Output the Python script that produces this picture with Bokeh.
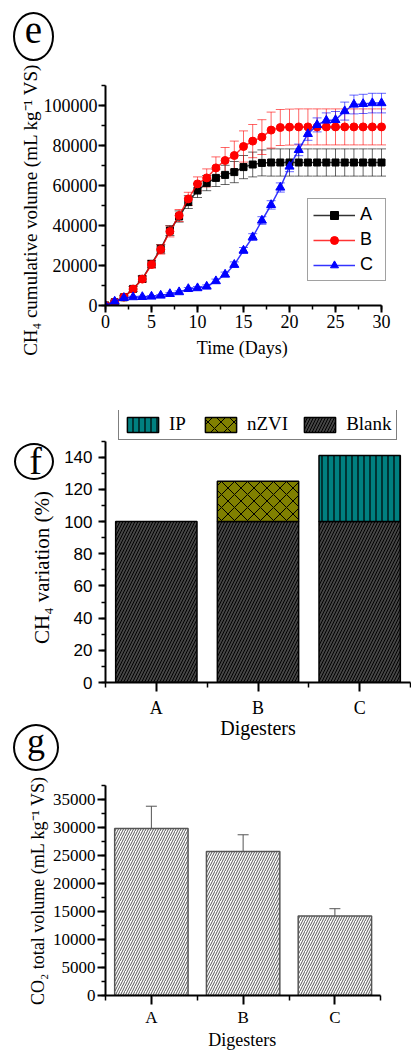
from bokeh.plotting import figure
from bokeh.layouts import column
from bokeh.models import (ColumnDataSource, Whisker, TeeHead, Legend, LegendItem,
                          SingleIntervalTicker, FixedTicker, Range1d,
                          NumeralTickFormatter, Div)
from bokeh.embed import file_html
from bokeh.resources import INLINE

SERIF = "Liberation Serif"
SANS = "Liberation Sans"

# ---------------- data: panel e (CH4 cumulative volume) ----------------
days = list(range(31))
ch4_A = [0, 1600, 4100, 8300, 13300, 20800, 28300, 37500, 44500, 51700, 57500,
         61200, 63800, 65300, 66700, 69200, 70500, 71300, 71500, 71500, 71500,
         71500, 71500, 71500, 71500, 71500, 71500, 71500, 71500, 71500, 71500]
ch4_A_err = [0, 600, 900, 1200, 1500, 1800, 2200, 2500, 2800, 3200, 3500,
             3800, 4300, 4800, 5300, 5800, 6200, 6500, 6800, 6800, 6800,
             6800, 6800, 6800, 6800, 6800, 6800, 6800, 6800, 6800, 6800]
ch4_B = [0, 1700, 4200, 8200, 13200, 20500, 28000, 37000, 45000, 53300, 60800,
         63800, 68800, 72500, 75000, 79500, 82200, 84200, 87700, 89000, 89200,
         89300, 89300, 89300, 89300, 89300, 89300, 89300, 89300, 89300, 89300]
ch4_B_err = [0, 600, 900, 1200, 1500, 1900, 2300, 2700, 3000, 3300, 3500,
             4500, 5500, 6500, 7200, 7800, 8300, 8700, 9000, 9000, 9000,
             9000, 9000, 9000, 9000, 9000, 9000, 9000, 9000, 9000, 9000]
ch4_C = [0, 2000, 3800, 4200, 4300, 4500, 5000, 5800, 6700, 8300, 8700,
         9500, 12200, 15500, 20400, 27500, 34200, 42500, 50300, 59000, 69500,
         77800, 85800, 90300, 92500, 92800, 97200, 100500, 100800, 101200, 101200]
ch4_C_err = [0, 300, 400, 400, 400, 500, 500, 600, 600, 700, 800,
             800, 1000, 1200, 1400, 1500, 1700, 1900, 2100, 2300, 2600,
             2900, 3200, 3500, 3800, 4200, 4500, 4700, 4800, 4900, 4900]
series_names = ["A", "B", "C"]

# ---------------- data: panel f (CH4 variation) ----------------
digesters = ["A", "B", "C"]
blank_pct = [100, 100, 100]
nzvi_pct = [0, 25, 0]
ip_pct = [0, 0, 41]

# ---------------- data: panel g (CO2 total volume) ----------------
co2_total = [29800, 25700, 14200]
co2_err = [4000, 3000, 1300]

panel_tags = ["e", "f", "g"]

NB = "\u00a0"


def style_axis(ax, tick_font, tick_size, label_size, tick_out=7, minor_out=4):
    ax.axis_line_width = 2
    ax.axis_line_color = "black"
    ax.major_tick_line_width = 2
    ax.minor_tick_line_width = 1.5
    ax.major_tick_line_color = "black"
    ax.minor_tick_line_color = "black"
    ax.major_tick_in = 0
    ax.major_tick_out = tick_out
    ax.minor_tick_in = 0
    ax.minor_tick_out = minor_out
    ax.major_label_text_font = tick_font
    ax.major_label_text_font_size = tick_size
    ax.major_label_text_color = "black"
    ax.axis_label_text_font = SERIF
    ax.axis_label_text_font_style = "normal"
    ax.axis_label_text_font_size = label_size
    ax.axis_label_text_color = "black"


def base_fig(w, h, xr, yr, l, r, t, b):
    p = figure(width=w, height=h, x_range=xr, y_range=yr, output_backend="svg",
               toolbar_location=None, min_border_left=l, min_border_right=r,
               min_border_top=t, min_border_bottom=b)
    p.outline_line_color = None
    p.xgrid.visible = False
    p.ygrid.visible = False
    p.background_fill_color = "white"
    p.border_fill_color = "white"
    return p


# ================= panel e =================
# frame runs to the right edge (invisible); the x axis is bounded to 0-30
pe = base_fig(411, 390, Range1d(0, 33.15), Range1d(0, 110000), 105, 1, 85, 85)
pe.xaxis.ticker = SingleIntervalTicker(interval=5, num_minor_ticks=2)
pe.xaxis.bounds = (0, 30)
pe.yaxis.ticker = SingleIntervalTicker(interval=20000, num_minor_ticks=2)
pe.yaxis.formatter = NumeralTickFormatter(format="0")
pe.xaxis.axis_label = "Time (Days)" + NB * 7
pe.yaxis.axis_label = "CH\u2084 cumulative volume (mL kg\u207b\u00b9 VS)" + NB * 6
for ax in pe.xaxis:
    style_axis(ax, SERIF, "18px", "18px")
for ax in pe.yaxis:
    style_axis(ax, SERIF, "18px", "19px")
pe.xaxis.major_label_standoff = 2
pe.xaxis.axis_label_standoff = 7
pe.yaxis.major_label_standoff = 1
pe.yaxis.axis_label_standoff = 0

colors = ["black", "red", "blue"]
markers = ["square", "circle", "triangle"]
msizes = [7, 8, 9]
vals = [ch4_A, ch4_B, ch4_C]
errs = [ch4_A_err, ch4_B_err, ch4_C_err]
items = []
for name, col, mk, ms, v, e in zip(series_names, colors, markers, msizes, vals, errs):
    src = ColumnDataSource(dict(x=days, y=v,
                                upper=[a + b for a, b in zip(v, e)],
                                lower=[a - b for a, b in zip(v, e)]))
    pe.add_layout(Whisker(source=src, base="x", upper="upper", lower="lower",
                          line_color=col, line_alpha=0.6, line_width=1,
                          upper_head=TeeHead(size=9, line_color=col, line_alpha=0.6, line_width=1),
                          lower_head=TeeHead(size=9, line_color=col, line_alpha=0.6, line_width=1)))
    ln = pe.line("x", "y", source=src, line_color=col, line_width=1.5, line_alpha=0.8)
    sc = pe.scatter("x", "y", source=src, marker=mk, size=ms, fill_color=col, line_color=col)
    items.append(LegendItem(label=name, renderers=[ln, sc]))

leg_e = Legend(items=items, location=(202, 24), orientation="vertical",
               border_line_color="#444444", border_line_width=1.5,
               label_text_font=SANS, label_text_font_size="18px", label_text_color="black",
               glyph_width=42, glyph_height=20, label_height=20,
               padding=5, spacing=4, label_standoff=5, margin=0,
               background_fill_color="white", background_fill_alpha=1)
pe.add_layout(leg_e)

# ================= panel f =================
# the frame reaches above 150 (invisible) so that the legend sits inside it;
# the axis itself is bounded to 0-150
pos = [i + 1 for i in range(len(digesters))]
pf = base_fig(411, 351, Range1d(0.5, 3.5), Range1d(0, 169), 102, 1, 20, 56)
pf.xaxis.ticker = FixedTicker(ticks=pos, minor_ticks=[0.5, 1.5, 2.5, 3.5])
pf.xaxis.major_label_overrides = {p_: n for p_, n in zip(pos, digesters)}
pf.yaxis.ticker = SingleIntervalTicker(interval=20, num_minor_ticks=2)
pf.yaxis.bounds = (0, 150)
pf.xaxis.axis_label = "Digesters"
pf.yaxis.axis_label = "CH\u2084 variation (%)" + NB * 8
for ax in pf.yaxis:
    style_axis(ax, SANS, "17px", "21px")
for ax in pf.xaxis:
    style_axis(ax, SERIF, "18px", "20px", tick_out=9, minor_out=5)
pf.xaxis.major_label_standoff = 6
pf.xaxis.axis_label_standoff = -4
pf.yaxis.major_label_standoff = 6
pf.yaxis.axis_label_standoff = 7

tops_n = [b + n for b, n in zip(blank_pct, nzvi_pct)]
tops_i = [t + i for t, i in zip(tops_n, ip_pct)]
src_blank = ColumnDataSource(dict(x=pos, bottom=[0] * len(pos), top=blank_pct))
src_n = ColumnDataSource(dict(x=[p_ for p_, n in zip(pos, nzvi_pct) if n > 0],
                              bottom=[b for b, n in zip(blank_pct, nzvi_pct) if n > 0],
                              top=[t for t, n in zip(tops_n, nzvi_pct) if n > 0]))
src_i = ColumnDataSource(dict(x=[p_ for p_, i in zip(pos, ip_pct) if i > 0],
                              bottom=[t for t, i in zip(tops_n, ip_pct) if i > 0],
                              top=[t for t, i in zip(tops_i, ip_pct) if i > 0]))
r_blank = pf.vbar(x="x", bottom="bottom", top="top", width=0.8, source=src_blank,
                  fill_color="#454545", line_color="black", line_width=1.5,
                  hatch_pattern="/", hatch_color="black", hatch_scale=6, hatch_weight=1)
r_n = pf.vbar(x="x", bottom="bottom", top="top", width=0.8, source=src_n,
              fill_color="#808000", line_color="black", line_width=1.5,
              hatch_pattern="x", hatch_color="black", hatch_scale=13, hatch_weight=1)
r_i = pf.vbar(x="x", bottom="bottom", top="top", width=0.8, source=src_i,
              fill_color="#008080", line_color="black", line_width=1.5,
              hatch_pattern="|", hatch_color="black", hatch_scale=6, hatch_weight=1.2)
leg_f = Legend(items=[LegendItem(label="IP", renderers=[r_i]),
                      LegendItem(label="nZVI", renderers=[r_n]),
                      LegendItem(label="Blank", renderers=[r_blank])],
               location=(13, 242), orientation="horizontal",
               border_line_color="black", border_line_width=1.5,
               label_text_font=SERIF, label_text_font_size="19px", label_text_color="black",
               glyph_width=39, glyph_height=19, label_height=19,
               padding=4, spacing=12, label_standoff=7, margin=0,
               background_fill_color="white", background_fill_alpha=1)
pf.add_layout(leg_f)

# ================= panel g =================
pg = base_fig(411, 311, Range1d(0.5, 3.824), Range1d(0, 37500), 102, 1, 44, 50)
pg.xaxis.ticker = FixedTicker(ticks=pos, minor_ticks=[0.5, 1.5, 2.5, 3.5])
pg.xaxis.major_label_overrides = {p_: n for p_, n in zip(pos, digesters)}
pg.xaxis.bounds = (0.5, 3.5)
pg.yaxis.ticker = SingleIntervalTicker(interval=5000, num_minor_ticks=2)
pg.yaxis.formatter = NumeralTickFormatter(format="0")
pg.xaxis.axis_label = "Digesters" + NB * 7
pg.yaxis.axis_label = "CO\u2082 total volume (mL kg\u207b\u00b9 VS)"
for ax in pg.yaxis:
    style_axis(ax, SERIF, "17px", "18px", tick_out=8)
for ax in pg.xaxis:
    style_axis(ax, SERIF, "17px", "18px", tick_out=9, minor_out=5)
pg.xaxis.major_label_standoff = 3
pg.xaxis.axis_label_standoff = 0
pg.yaxis.major_label_standoff = 2
pg.yaxis.axis_label_standoff = 2

src_g = ColumnDataSource(dict(x=pos, top=co2_total,
                              upper=[a + b for a, b in zip(co2_total, co2_err)],
                              lower=[a - b for a, b in zip(co2_total, co2_err)]))
pg.vbar(x="x", top="top", bottom=0, width=0.8, source=src_g,
        fill_color="white", line_color="#555555", line_width=1.5,
        hatch_pattern="/", hatch_color="#555555", hatch_scale=5, hatch_weight=1)
pg.add_layout(Whisker(source=src_g, base="x", upper="upper", lower="lower",
                      line_color="#555555", line_width=1,
                      upper_head=TeeHead(size=11, line_color="#555555", line_width=1),
                      lower_head=TeeHead(size=11, line_color="#555555", line_width=1)))

# ================= circled panel tags (absolutely positioned overlay) =================
# (center x, center y, ring width, ring height, font px, baseline y, letter x)
tag_geom = [(33, 36, 41, 49, 39, 43, 33.5),
            (34, 461, 40, 37, 38, 474, 35.5),
            (36, 747, 46, 47, 36, 753, 36)]
parts = []
for tag, (cx, cy, w, h, fs, base, lx) in zip(panel_tags, tag_geom):
    parts.append(
        f'<div style="position:absolute;left:{cx - w / 2}px;top:{cy - h / 2}px;'
        f'width:{w}px;height:{h}px;border:2.8px solid black;border-radius:50%;'
        f'box-sizing:border-box;"></div>')
    parts.append(
        f'<div style="position:absolute;left:{lx - 30}px;top:{base - 0.8375 * fs:.1f}px;'
        f'width:60px;text-align:center;font-family:\'Liberation Serif\';'
        f'font-size:{fs}px;line-height:{fs}px;color:black;">{tag}</div>')
overlay = Div(text='<div style="position:absolute;left:0px;top:0px;width:411px;height:1052px;'
                   'overflow:visible;pointer-events:none;">' + "".join(parts) + "</div>",
              width=411, height=1, margin=(0, 0, 0, 0),
              styles={"position": "absolute", "left": "0px", "top": "0px",
                      "z-index": "10", "overflow": "visible", "pointer-events": "none"})

layout = column(overlay, pe, pf, pg, spacing=0)
open("out.html", "w").write(file_html(layout, INLINE))
